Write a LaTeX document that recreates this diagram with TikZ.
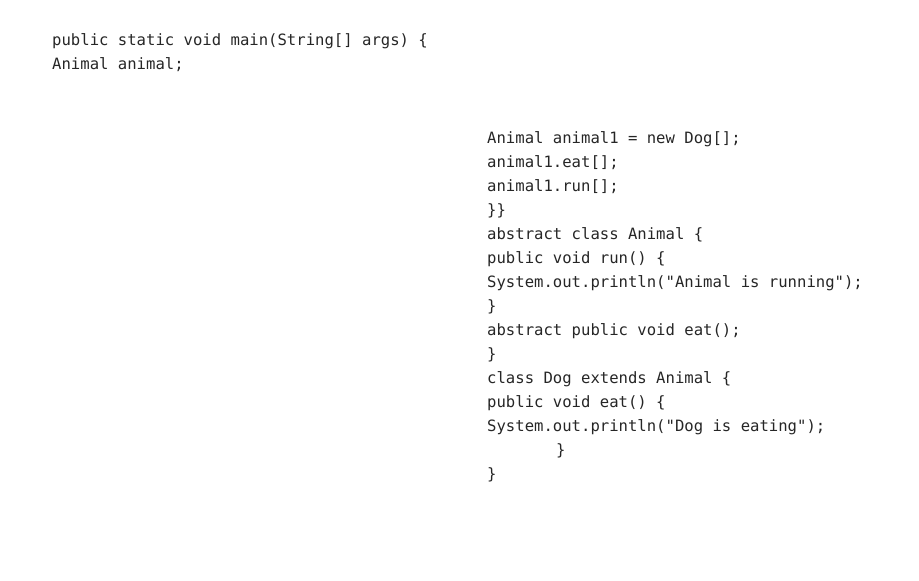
\documentclass[tikz,border=0pt]{standalone}
\usepackage{fontspec}
\setmonofont{DejaVu Sans Mono}
\begin{document}
\begin{tikzpicture}[x=1pt,y=-1pt,code/.style={anchor=base west,inner sep=0pt,font=\ttfamily\fontsize{15.6}{17}\selectfont,text=black!85}]
\useasboundingbox (0,0) rectangle (919,581);
\node[code] (l1) at (52,45) {public static void main(String[] args) \{};
\node[code] (l2) at (52,69) {Animal animal;};
\foreach \t [count=\i] in {
 {Animal animal1 = new Dog[];},
 {animal1.eat[];},
 {animal1.run[];},
 {\}\}},
 {abstract class Animal \{},
 {public void run() \{},
 {System.out.println("Animal is running");},
 {\}},
 {abstract public void eat();},
 {\}},
 {class Dog extends Animal \{},
 {public void eat() \{},
 {System.out.println("Dog is eating");}}
 \node[code] (r\i) at (487,{143+24*(\i-1)}) {\t};
\node[code] (r14) at (556,455) {\}};
\node[code] (r15) at (487,479) {\}};
\end{tikzpicture}
\end{document}
